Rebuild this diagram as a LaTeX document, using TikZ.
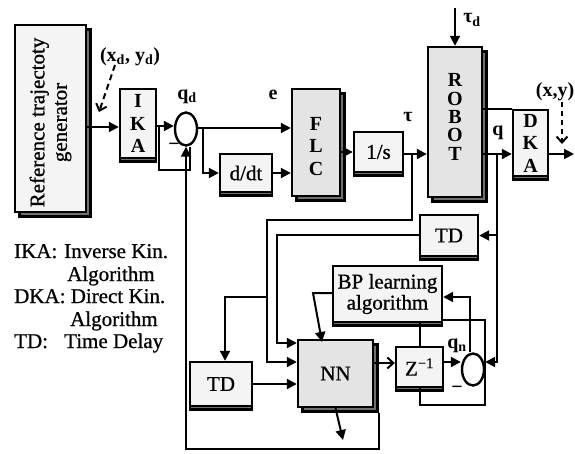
\documentclass[tikz,border=0pt]{standalone}
\usepackage{fontspec}
\setmainfont{Liberation Serif}
\newfontfamily\heavyfont{Liberation Serif}[FakeBold=0.8]
\usetikzlibrary{arrows.meta,shapes.geometric,calc}
\definecolor{lightbox}{HTML}{F4F4F4}
\definecolor{midbox}{HTML}{E4E4E4}
\definecolor{shade}{HTML}{707070}
\tikzset{
  fnt/.style={font=\fontsize{21}{22.5}\heavyfont},
  fntb/.style={font=\fontsize{20}{22.5}\selectfont\bfseries},
  smallbox/.style={draw, line width=2.4pt, fill=lightbox, inner sep=0pt, fnt, align=center,
    preaction={draw, fill=shade, line width=2.4pt, transform canvas={shift={(0pt,-3.5pt)}}}},
  bigbox/.style={draw, line width=2.4pt, fill=midbox, inner sep=0pt, fnt, align=center,
    preaction={draw, fill=shade, line width=2.4pt, transform canvas={shift={(4.5pt,-4.5pt)}}}},
  sumnode/.style={draw, ellipse, line width=2.4pt, fill=white, inner sep=0pt},
  conn/.style={line width=2pt},
  arr/.style={conn, -{Triangle[length=10pt,width=10pt]}},
  barb/.style={conn, -{Straight Barb[length=6pt,width=11pt]}},
  lbl/.style={fntb, inner sep=0pt},
  lg/.style={fnt, inner sep=0pt, anchor=base west},
}
\begin{document}
\begin{tikzpicture}[x=1pt,y=-1pt]
\useasboundingbox (0,0) rectangle (575,454);

% ---- blocks
\node[bigbox, fill=lightbox, minimum width=71pt, minimum height=187pt,
  label={[fnt, rotate=90, align=center, xshift=-4pt]center:Reference trajectoty\\generator}] (RTG) at (50.5,118.5) {};
\node[smallbox, fntb, minimum width=36pt, minimum height=69pt] (IKA) at (138,123.5) {I\\K\\A};
\node[sumnode, minimum width=22pt, minimum height=33pt] (S1) at (186,129) {};
\node[smallbox, minimum width=52pt, minimum height=38pt] (DDT) at (246,173) {d/dt};
\node[bigbox, minimum width=48pt, minimum height=107pt,
  label={[fntb, align=center, yshift=-4pt]center:F\\L\\C}] (FLC) at (316,142.5) {};
\node[smallbox, minimum width=49pt, minimum height=40pt] (ONE) at (378.5,152) {1/s};
\node[bigbox, minimum width=54pt, minimum height=150pt,
  label={[font=\fontsize{20}{18.4}\selectfont\bfseries, align=center, yshift=5pt]center:R\\O\\B\\O\\T}] (ROB) at (455,122) {};
\node[smallbox, fntb, minimum width=35pt, minimum height=66pt] (DKA) at (530.5,143) {D\\K\\A};
\node[smallbox, font=\fontsize{21}{21}\heavyfont, minimum width=58pt, minimum height=41pt] (TDa) at (449,235.5) {TD};
\node[smallbox, font=\fontsize{21}{21}\heavyfont, minimum width=109pt, minimum height=56pt] (BP) at (387.5,294) {BP learning\\algorithm};
\node[smallbox, minimum width=47pt, minimum height=40pt] (Z) at (419.5,367) {Z\textsuperscript{−1}};
\node[sumnode, minimum width=22pt, minimum height=32pt] (S2) at (473,369.5) {};
\node[bigbox, minimum width=75pt, minimum height=67pt] (NN) at (335.5,373.5) {NN};
\node[smallbox, minimum width=62pt, minimum height=44pt] (TDb) at (221,384) {TD};

% ---- coordinates
\coordinate (fb2) at (190,170);
\coordinate (bl) at (186,449);
\coordinate (br1) at (203,128);
\coordinate (br2) at (412,154);
\coordinate (c1) at (267,220);
\coordinate (c2) at (267,297);
\coordinate (c3) at (277,343);
\coordinate (br3) at (497,154);
\coordinate (out) at (574,154);
\coordinate (c4) at (470,297);
\coordinate (c5) at (485,320);
\coordinate (c6) at (485,405);
\coordinate (c7) at (313,293);
\coordinate (c8) at (322,342);
\coordinate (nnout) at (343,440);
\coordinate (xd1) at (115,65);
\coordinate (xd2) at (99,112);
\coordinate (tdin) at (455,8);
\coordinate (xy1) at (562,102);
\coordinate (xy2) at (562,144);

% ---- connectors
\draw[arr] (RTG.east |- 0,127) -- (IKA.west |- 0,127);
\draw[arr] (IKA.east |- 0,126) -- (S1.west |- 0,126);
\draw[conn] ([xshift=2pt]IKA.east |- 0,126) |- (fb2) -- (fb2 |- S1.south);
\draw[arr] ([shift={(4.5pt,-4.5pt)}]NN.south east) |- (bl) -- (S1.south);
\draw[arr] (S1.east |- 0,128) -- (FLC.west |- 0,128);
\draw[arr] (br1) |- (DDT.west);
\draw[arr] (DDT.east) -- (FLC.west |- DDT.east);
\draw[arr] (FLC.east |- ONE.west) -- (ONE.west);
\draw[arr] (ONE.east |- br2) -- (ROB.west |- br2);
\draw[arr] (br2) |- (c1) |- (NN.west |- 0,362);
\draw[arr] (c2) -| ([xshift=4pt]TDb.north);
\draw[arr] (TDa.west) -| (c3) -- (NN.west |- c3);
\draw[arr] (TDb.east) -- (NN.west |- TDb.east);
\draw[arr] (ROB.east |- br3) -- (DKA.west |- br3);
\draw[conn] (ROB.east |- DKA.north) -- (DKA.north west);
\draw[arr] (br3) |- (S2.east |- 0,362);
\draw[arr] (br3 |- TDa.east) -- (TDa.east);
\draw[arr] (DKA.east |- out) -- (out);
\draw[barb] (NN.east |- 0,363) -- (Z.west |- 0,363);
\draw[arr] (Z.east |- 0,362) -- (S2.west |- 0,362);
\draw[arr] (c4 |- S2.north) -- (c4) -- (BP.east |- c4);
\draw[conn] (BP.east |- c5) -- (c5) -- (c6) -| (Z.south);
\draw[conn] (Z.north |- BP.south) -- (Z.north);
\draw[arr] (BP.west |- c7) -- (c7) -- (c8);
\draw[arr] (NN.south) -- (nnout);
\draw[arr] (tdin) -- (ROB.north);
\draw[conn, dash pattern=on 6pt off 4pt, -{Straight Barb[length=6pt,width=11pt]}] (xd1) -- (xd2);
\draw[conn, dash pattern=on 5pt off 4pt, -{Straight Barb[length=6pt,width=11pt]}] (xy1) -- (xy2);

% ---- labels
\node[lbl] (xdyd) at (130,57) {(x\textsubscript{d}, y\textsubscript{d})};
\node[lbl] (qd) at (187,97) {q\textsubscript{d}};
\node[lbl] (m1) at (174,147) {−};
\node[lbl] (e) at (273,95) {e};
\node[lbl] (tau) at (408,117) {τ};
\node[lbl] (taud) at (472,20) {τ\textsubscript{d}};
\node[lbl] (q) at (498,133) {q};
\node[lbl] (xy) at (555,92) {(x,y)};
\node[lbl] (qn) at (457,346) {q\textsubscript{n}};
\node[lbl] (m2) at (457,390) {−};

% ---- legend
\node[lg] (l1a) at (14,258) {IKA:};
\node[lg] (l1b) at (64,258) {Inverse Kin.};
\node[lg] (l2) at (67,281) {Algorithm};
\node[lg] (l3) at (14,303) {DKA: Direct Kin.};
\node[lg] (l4) at (70,326) {Algorithm};
\node[lg] (l5a) at (14,348) {TD:};
\node[lg] (l5b) at (64,348) {Time Delay};
\end{tikzpicture}
\end{document}
